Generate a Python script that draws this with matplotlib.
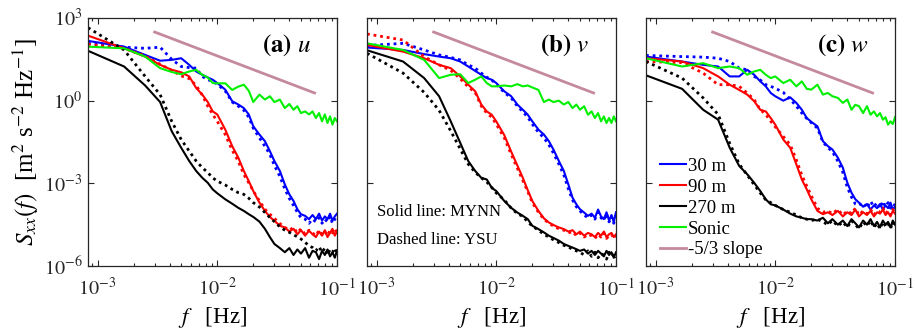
import matplotlib
matplotlib.use("Agg")
import matplotlib.pyplot as plt
import matplotlib.ticker as mt
import numpy as np

plt.rcParams['font.family'] = ['Liberation Serif', 'DejaVu Serif']
plt.rcParams['mathtext.fontset'] = 'stix'

# frequencies (Hz), harmonics of a 1200 s record
freq = [0.000833, 0.001667, 0.0025, 0.003333, 0.004167, 0.005, 0.005833, 0.006667,
        0.0075, 0.008333, 0.009167, 0.01, 0.011667, 0.013333, 0.015, 0.016667,
        0.018333, 0.02, 0.0225, 0.025, 0.0275, 0.03, 0.033333, 0.036667, 0.04,
        0.043333, 0.046667, 0.05, 0.054167, 0.058333, 0.0625, 0.066667, 0.070833,
        0.075, 0.079167, 0.083333, 0.0875, 0.091667, 0.095833, 0.1]

# log10 of spectra
# (a) u
a_30_mynn = [2.17, 1.96, 1.66, 1.45, 1.48, 1.54, 1.30, 1.06, 0.94, 0.84, 0.76,
             0.64, 0.40, -0.02, -0.14, -0.27, -0.50, -0.93, -1.23, -1.47, -1.83, -2.19,
             -2.55, -3.04, -3.40, -3.64, -3.94, -4.12, -4.18, -4.30, -4.15, -4.30, -4.10,
             -4.35, -4.20, -4.30, -4.10, -4.35, -4.20, -4.10]
a_30_ysu = [2.08, 1.94, 1.90, 1.94, 1.50, 1.24, 1.20, 1.18, 0.88, 0.76, 0.70,
            0.60, 0.35, -0.05, -0.20, -0.35, -0.60, -1.00, -1.35, -1.65, -1.95, -2.35,
            -2.75, -3.20, -3.55, -3.80, -4.05, -4.25, -4.30, -4.45, -4.30, -4.40, -4.25,
            -4.45, -4.30, -4.40, -4.20, -4.45, -4.30, -4.20]
a_90_mynn = [2.36, 1.90, 1.60, 1.30, 1.12, 1.03, 0.88, 0.46, 0.22, -0.05, -0.39,
             -0.50, -1.05, -1.65, -2.07, -2.55, -2.92, -3.28, -3.70, -4.00, -4.22, -4.36,
             -4.54, -4.60, -4.75, -4.65, -4.85, -4.70, -4.90, -4.72, -4.85, -4.95, -4.75,
             -4.90, -4.70, -4.95, -4.80, -4.65, -4.90, -4.75]
a_90_ysu = [2.05, 1.90, 1.62, 1.32, 1.10, 0.90, 0.80, 0.55, 0.20, -0.20, -0.50,
            -0.75, -1.23, -1.80, -2.20, -2.68, -2.98, -3.28, -3.64, -3.94, -4.12, -4.27,
            -4.46, -4.60, -4.70, -4.60, -4.80, -4.65, -4.85, -4.70, -4.80, -4.90, -4.70,
            -4.85, -4.75, -4.90, -4.70, -4.80, -4.65, -4.80]
a_270_mynn = [1.81, 1.24, 0.55, -0.05, -1.11, -1.71, -2.19, -2.55, -2.80, -2.98, -3.22,
              -3.36, -3.58, -3.74, -3.89, -4.00, -4.12, -4.22, -4.39, -4.65, -4.95, -5.20,
              -5.35, -5.50, -5.35, -5.60, -5.40, -5.55, -5.35, -5.70, -5.45, -5.50, -5.75,
              -5.45, -5.60, -5.40, -5.65, -5.50, -5.70, -5.45]
a_270_ysu = [2.65, 1.84, 0.88, 0.22, -0.75, -1.41, -1.83, -2.19, -2.43, -2.61, -2.80,
             -2.92, -3.06, -3.22, -3.34, -3.40, -3.54, -3.70, -3.86, -4.06, -4.24, -4.39,
             -4.58, -4.70, -4.78, -4.87, -4.94, -5.02, -5.14, -5.27, -5.33, -5.45, -5.30,
             -5.50, -5.35, -5.60, -5.40, -5.50, -5.35, -5.55]
a_sonic = [1.96, 1.90, 1.60, 1.18, 1.04, 0.96, 1.06, 1.12, 0.94, 0.84, 0.64,
           0.63, 0.63, 0.39, 0.51, 0.58, 0.36, -0.05, 0.22, 0.04, 0.16, -0.05,
           0.04, -0.27, -0.12, -0.33, -0.20, -0.45, -0.39, -0.50, -0.39, -0.63, -0.45,
           -0.75, -0.50, -0.81, -0.57, -0.87, -0.63, -0.75]

# (b) v
b_30_mynn = [1.93, 1.84, 1.69, 1.60, 1.54, 1.42, 1.24, 1.08, 0.94, 0.82, 0.76,
             0.64, 0.34, 0.16, -0.14, -0.33, -0.51, -0.75, -1.05, -1.23, -1.47, -1.77,
             -2.19, -2.55, -3.04, -3.52, -3.76, -3.94, -4.06, -4.18, -4.10, -4.25, -3.95,
             -4.20, -4.30, -4.05, -4.35, -4.15, -4.40, -4.05]
b_30_ysu = [2.00, 2.08, 1.84, 1.66, 1.57, 1.48, 1.30, 1.18, 1.00, 0.85, 0.75,
            0.60, 0.30, 0.10, -0.20, -0.40, -0.60, -0.85, -1.15, -1.35, -1.60, -1.90,
            -2.30, -2.70, -3.20, -3.60, -3.85, -4.00, -4.15, -4.25, -4.15, -4.30, -4.05,
            -4.25, -4.35, -4.10, -4.40, -4.20, -4.45, -4.10]
b_90_mynn = [2.02, 1.78, 1.54, 1.30, 1.18, 0.88, 0.58, 0.34, -0.14, -0.39, -0.51,
             -0.75, -1.25, -1.85, -2.35, -2.80, -3.25, -3.64, -4.00, -4.27, -4.42, -4.51,
             -4.60, -4.66, -4.75, -4.70, -4.85, -4.75, -4.90, -4.80, -4.85, -4.95, -4.80,
             -4.90, -4.75, -4.95, -4.85, -4.80, -4.95, -4.85]
b_90_ysu = [2.42, 2.20, 1.60, 1.30, 1.10, 0.80, 0.50, 0.30, -0.20, -0.45, -0.60,
            -0.85, -1.35, -1.95, -2.45, -2.90, -3.30, -3.70, -4.05, -4.30, -4.45, -4.55,
            -4.65, -4.70, -4.80, -4.75, -4.90, -4.80, -4.95, -4.85, -4.90, -5.00, -4.85,
            -4.95, -4.80, -5.00, -4.90, -4.85, -5.00, -4.90]
b_270_mynn = [1.83, 1.42, 0.82, 0.16, -0.75, -1.53, -2.19, -2.55, -2.80, -2.86, -3.16,
              -3.28, -3.64, -3.89, -4.06, -4.18, -4.30, -4.54, -4.66, -4.78, -4.90, -4.98,
              -5.08, -5.20, -5.27, -5.33, -5.39, -5.45, -5.40, -5.55, -5.45, -5.60, -5.45,
              -5.55, -5.65, -5.45, -5.60, -5.50, -5.70, -5.50]
b_270_ysu = [1.72, 1.00, 0.30, -0.35, -1.10, -1.75, -2.30, -2.60, -2.80, -2.95, -3.15,
             -3.35, -3.60, -3.90, -4.10, -4.20, -4.40, -4.55, -4.70, -4.85, -4.95, -5.05,
             -5.15, -5.25, -5.30, -5.40, -5.45, -5.50, -5.60, -5.45, -5.65, -5.50, -5.70,
             -5.55, -5.60, -5.75, -5.50, -5.65, -5.55, -5.70]
b_sonic = [2.08, 1.84, 1.48, 0.82, 0.94, 0.96, 0.64, 0.76, 0.88, 0.64, 0.52,
           0.52, 0.55, 0.52, 0.60, 0.52, 0.55, 0.48, 0.39, -0.05, 0.04, -0.05,
           0.00, -0.14, -0.05, -0.27, -0.14, -0.33, -0.20, -0.51, -0.39, -0.63, -0.45,
           -0.75, -0.57, -0.81, -0.63, -0.81, -0.57, -0.75]

# (c) w
c_30_mynn = [1.60, 1.42, 1.30, 1.24, 0.88, 0.88, 1.12, 0.94, 0.70, 0.52, 0.28,
             0.16, 0.00, 0.12, -0.08, -0.33, -0.63, -0.77, -0.93, -1.47, -1.65, -1.77,
             -2.07, -2.43, -2.98, -3.34, -3.58, -3.70, -3.85, -3.75, -3.95, -3.80, -3.90,
             -3.75, -3.95, -3.80, -3.90, -3.70, -3.95, -3.85]
c_30_ysu = [1.64, 1.60, 1.58, 1.54, 1.42, 1.18, 1.12, 0.88, 0.75, 0.58, 0.52,
            0.45, 0.30, 0.05, -0.20, -0.45, -0.65, -0.80, -1.00, -1.50, -1.70, -1.85,
            -2.20, -2.60, -3.15, -3.50, -3.75, -3.80, -3.70, -3.90, -3.65, -3.85, -3.70,
            -3.90, -3.65, -3.85, -3.70, -3.90, -3.75, -3.80]
c_90_mynn = [1.54, 1.42, 1.18, 0.88, 0.58, 0.39, 0.22, -0.02, -0.33, -0.39, -0.63,
             -0.87, -1.41, -1.71, -2.31, -2.86, -3.22, -3.58, -4.00, -4.12, -4.05, -4.15,
             -4.00, -4.20, -4.05, -4.15, -3.95, -4.20, -4.05, -4.15, -4.00, -4.20, -4.05,
             -4.10, -3.95, -4.15, -4.05, -4.20, -4.00, -4.10]
c_90_ysu = [1.42, 1.38, 1.00, 0.58, 0.58, 0.52, 0.28, 0.04, -0.33, -0.50, -0.75,
            -0.95, -1.30, -1.60, -2.15, -2.70, -3.10, -3.45, -3.90, -4.05, -4.00, -4.10,
            -3.95, -4.15, -4.00, -4.10, -3.90, -4.15, -4.00, -4.10, -3.95, -4.15, -4.00,
            -4.05, -3.90, -4.10, -4.00, -4.15, -3.95, -4.05]
c_270_mynn = [0.92, 0.43, -0.33, -0.69, -1.71, -2.37, -2.67, -2.98, -3.28, -3.58, -3.76,
              -3.80, -3.95, -4.10, -4.20, -4.25, -4.30, -4.30, -4.35, -4.25, -4.45, -4.30,
              -4.50, -4.35, -4.55, -4.30, -4.45, -4.60, -4.35, -4.50, -4.30, -4.55, -4.40,
              -4.60, -4.35, -4.50, -4.40, -4.60, -4.35, -4.50]
c_270_ysu = [1.42, 0.82, 0.10, -0.50, -1.55, -2.30, -2.70, -3.05, -3.35, -3.60, -3.70,
             -3.80, -3.95, -4.05, -4.15, -4.25, -4.30, -4.35, -4.30, -4.40, -4.50, -4.35,
             -4.55, -4.40, -4.60, -4.35, -4.50, -4.65, -4.40, -4.55, -4.35, -4.60, -4.45,
             -4.65, -4.40, -4.55, -4.45, -4.65, -4.40, -4.60]
c_sonic = [1.54, 1.24, 1.36, 1.18, 1.24, 1.18, 0.94, 1.06, 1.12, 0.94, 0.82,
           0.88, 0.64, 0.76, 0.52, 0.70, 0.43, 0.40, 0.58, 0.22, 0.28, 0.16,
           0.10, -0.08, 0.04, -0.33, -0.15, -0.20, -0.45, -0.20, -0.51, -0.39, -0.57,
           -0.45, -0.69, -0.60, -0.87, -0.75, -0.85, -0.60]

# -5/3 reference line
slope_f = [0.003, 0.065]
slope_s = [310, 1.9]

titles = ['(a)', '(b)', '(c)']
comps = ['u', 'v', 'w']
heights = ['30 m', '90 m', '270 m']
colors = ['#0000ff', '#ff0000', '#000000']
green = '#00f000'
slope_color = '#c48a9c'

panels = [
    [(a_30_mynn, a_30_ysu), (a_90_mynn, a_90_ysu), (a_270_mynn, a_270_ysu), a_sonic],
    [(b_30_mynn, b_30_ysu), (b_90_mynn, b_90_ysu), (b_270_mynn, b_270_ysu), b_sonic],
    [(c_30_mynn, c_30_ysu), (c_90_mynn, c_90_ysu), (c_270_mynn, c_270_ysu), c_sonic],
]

W, H = 915, 335
fig = plt.figure(figsize=(W / 100, H / 100), dpi=100)
lefts = [88, 367, 646]
f = np.array(freq)
dec_fmt = mt.FuncFormatter(lambda v, p: r'$10^{%d}$' % round(np.log10(v)))

for i, (left, pdata) in enumerate(zip(lefts, panels)):
    ax = fig.add_axes([left / W, (H - 266) / H, 249 / W, 248 / H])
    handles = []
    for (mynn, ysu), c, lab in zip(pdata[:3], colors, heights):
        h, = ax.plot(f, 10.0 ** np.array(mynn), color=c, lw=1.5, label=lab)
        ax.plot(f, 10.0 ** np.array(ysu), color=c, lw=2.0, ls=(0, (1, 1.4)))
        handles.append(h)
    h, = ax.plot(f, 10.0 ** np.array(pdata[3]), color=green, lw=1.5, label='Sonic')
    handles.append(h)
    h, = ax.plot(slope_f, slope_s, color=slope_color, lw=2.0, label='-5/3 slope')
    handles.append(h)

    ax.set_xscale('log')
    ax.set_yscale('log')
    ax.set_xlim(8.33e-4, 0.1)
    ax.set_ylim(1e-6, 1e3)
    ax.set_yticks([1e-6, 1e-3, 1e0, 1e3])
    ax.yaxis.set_minor_locator(mt.NullLocator())
    ax.set_xticks([1e-3, 1e-2, 1e-1])
    ax.xaxis.set_minor_locator(mt.LogLocator(base=10, subs=np.arange(2, 10)))
    ax.xaxis.set_minor_formatter(mt.NullFormatter())
    ax.xaxis.set_major_formatter(dec_fmt)
    ax.yaxis.set_major_formatter(dec_fmt)
    ax.tick_params(which='both', direction='in', top=True, right=True,
                   labelsize=14.5, colors='#262626', width=0.8)
    ax.tick_params(which='major', length=4)
    ax.tick_params(which='minor', length=2)
    ax.tick_params(axis='x', pad=9)
    ax.tick_params(axis='y', pad=4)
    for s in ax.spines.values():
        s.set_color('#262626')
        s.set_linewidth(0.9)
    if i > 0:
        ax.set_yticklabels([])
    else:
        ax.set_ylabel(r'$S_{xx}(f)$  [m$^2$ s$^{-2}$ Hz$^{-1}$]', fontsize=18,
                      labelpad=2)
    ax.set_xlabel(r'$f$   [Hz]', fontsize=16.5, labelpad=3)
    ax.text(0.895, 0.89, r'$\mathbf{' + titles[i] + r'}$ $' + comps[i] + '$',
            transform=ax.transAxes, ha='right', va='center', fontsize=18)

    if i == 1:
        ax.text(0.04, 0.218, 'Solid line: MYNN', transform=ax.transAxes,
                fontsize=12, va='center')
        ax.text(0.04, 0.105, 'Dashed line: YSU', transform=ax.transAxes,
                fontsize=12, va='center')
    if i == 2:
        ax.legend(handles=handles, loc='lower left', bbox_to_anchor=(0.025, 0.0),
                  frameon=False, fontsize=13.5, handlelength=1.4, handletextpad=0.1,
                  labelspacing=0.2, borderaxespad=0.0)

fig.savefig('out.png', dpi=100)
